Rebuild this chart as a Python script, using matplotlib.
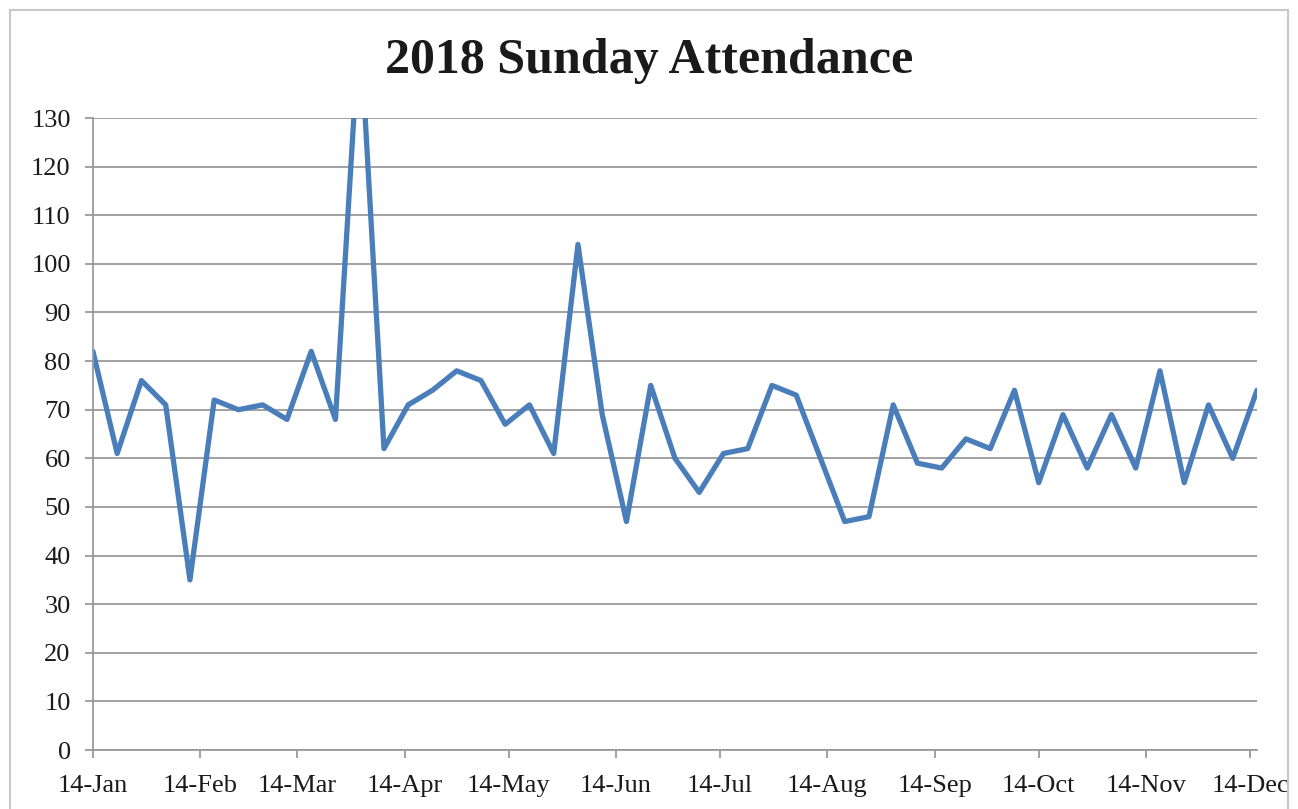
import numpy as np
import pandas as pd
import matplotlib
matplotlib.use("Agg")
from matplotlib import pyplot as plt
import matplotlib.dates as mdates
from matplotlib.patches import Rectangle

# weekly sundays, 14 Jan to 16 Dec 2018
sundays = pd.date_range("2018-01-14", periods=49, freq="7D")
attendance = [82, 61, 76, 71, 35, 72, 70, 71, 68, 82,
              68, 150, 62, 71, 74, 78, 76, 67, 71, 61,
              104, 69, 47, 75, 60, 53, 61, 62, 75, 73,
              60, 47, 48, 71, 59, 58, 64, 62, 74, 55,
              69, 58, 69, 58, 78, 55, 71, 60, 74]

title = "2018 Sunday Attendance"
yticks = np.arange(0, 131, 10)

plt.rcParams['font.family'] = ['Liberation Serif', 'DejaVu Serif']

fig = plt.figure(figsize=(12.98, 8.09), dpi=100)
ax = fig.add_axes([0.0716, 0.0729, 0.8968, 0.7812])

ax.plot(sundays, attendance, color='#4a7ebb', linewidth=3.8,
        solid_joinstyle='round', solid_capstyle='round')

ax.set_ylim(0, 130)
ax.set_yticks(yticks)
ax.set_xlim(sundays[0], sundays[-1])
ax.xaxis.set_major_locator(mdates.MonthLocator(bymonthday=14))
ax.xaxis.set_major_formatter(mdates.DateFormatter('%d-%b'))

ax.grid(axis='y', color='#9a9a9a', linewidth=1.3)
ax.set_axisbelow(True)
for side in ['top', 'right']:
    ax.spines[side].set_visible(False)
ax.spines['left'].set_color('#9a9a9a')
ax.spines['bottom'].set_color('#9a9a9a')
ax.spines['left'].set_linewidth(1.3)
ax.spines['bottom'].set_linewidth(1.3)
ax.tick_params(axis='both', colors='#9a9a9a', length=6, width=1.3,
               labelsize=19, labelcolor='#1a1a1a')
ax.tick_params(axis='y', pad=10)
ax.tick_params(axis='x', pad=12)

fig.text(0.5, 0.925, title, ha='center', va='center',
         fontsize=36, fontweight='bold', color='#1a1a1a')

# chart area border
fig.patches.append(Rectangle((10 / 1298, -0.05), 1278 / 1298, 1.05 - 10 / 809,
                             transform=fig.transFigure, fill=False,
                             edgecolor='#c8c8c8', linewidth=1.5))

fig.savefig("out.png", dpi=100)
